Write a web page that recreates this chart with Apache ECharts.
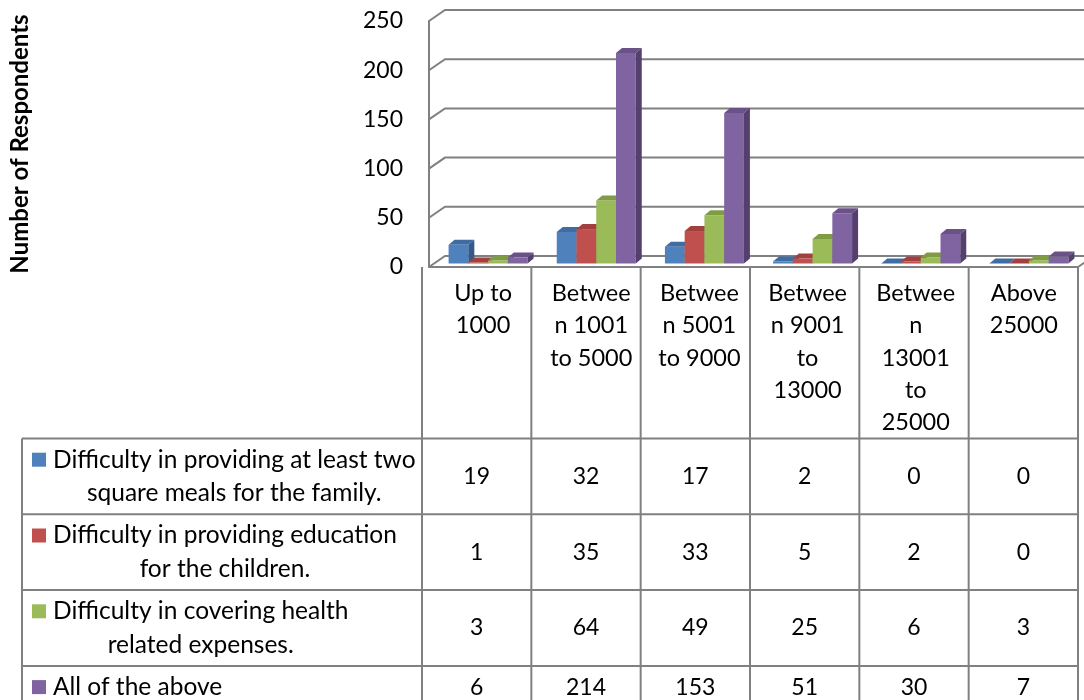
<!DOCTYPE html>
<html>
<head>
<meta charset="utf-8">
<script src="https://cdn.jsdelivr.net/npm/echarts@6/dist/echarts.min.js"></script>
<style>
  html, body { margin: 0; padding: 0; background: #fff; }
  #main { width: 1084px; height: 700px; }
</style>
</head>
<body>
<div id="main"></div>
<script>
// categories as they wrap in the header cells
var categories = ['Up to\n1000', 'Betwee\nn 1001\nto 5000', 'Betwee\nn 5001\nto 9000',
    'Betwee\nn 9001\nto\n13000', 'Betwee\nn\n13001\nto\n25000', 'Above\n25000'];
var seriesLabels = [
    ['Difficulty in providing at least two', 'square meals for the family.'],
    ['Difficulty in providing education', 'for the children.'],
    ['Difficulty in covering health', 'related expenses.'],
    ['All of the above']
];
var meals = [19, 32, 17, 2, 0, 0];
var education = [1, 35, 33, 5, 2, 0];
var health = [3, 64, 49, 25, 6, 3];
var allAbove = [6, 214, 153, 51, 30, 7];
var yTicks = [0, 50, 100, 150, 200, 250];

var seriesValues = [meals, education, health, allAbove];
var colors = [
    { front: '#4f81bd', top: '#3f6ca3', side: '#34598a' },
    { front: '#c0504d', top: '#a3403d', side: '#8b3532' },
    { front: '#9bbb59', top: '#7f9c45', side: '#6b853a' },
    { front: '#8064a2', top: '#6a5289', side: '#543f6f' }
];

var FONT = 'Lato';
var TEXT_SIZE = 24.5, NUM_SIZE = 23, HEAD_SIZE = 23.5;
var GRID_LEFT = 422, GRID_TOP = 21, GRID_W = 656, GRID_H = 246;
var COL_W = GRID_W / categories.length;
var TABLE_LEFT = 22, HEADER_BOTTOM = 438.5;
var LINE_H = 33.4, ROW_PAD = 9;
var LINE_COLOR = '#808080';

// 3d look: bars sit a bit behind the front plane, walls further back
var SHIFT_X = 5, SHIFT_Y = -3.5, DEPTH_X = 6, DEPTH_Y = -5;
var WALL_X = 16, WALL_Y = -11;

function bar3d(idx) {
    var c = colors[idx];
    return function (params, api) {
        var cat = api.value(0), v = api.value(1);
        var base = api.coord([cat, 0]);
        var tip = api.coord([cat, v]);
        var w = api.size([1, 0])[0] * 0.1826;
        var x0 = base[0] + SHIFT_X + (idx - 2) * w;
        var yb = base[1] + SHIFT_Y, yt = tip[1] + SHIFT_Y;
        return {
            type: 'group',
            children: [
                { type: 'rect', shape: { x: x0, y: yt, width: w, height: yb - yt }, style: { fill: c.front } },
                { type: 'polygon', shape: { points: [[x0, yt], [x0 + w, yt], [x0 + w + DEPTH_X, yt + DEPTH_Y], [x0 + DEPTH_X, yt + DEPTH_Y]] }, style: { fill: c.top } },
                { type: 'polygon', shape: { points: [[x0 + w, yt], [x0 + w + DEPTH_X, yt + DEPTH_Y], [x0 + w + DEPTH_X, yb + DEPTH_Y], [x0 + w, yb]] }, style: { fill: c.side } }
            ]
        };
    };
}

function gridLines(params, api) {
    var cs = params.coordSys;
    var y = api.coord([0, api.value(1)])[1];
    var children = [{
        type: 'polyline',
        shape: { points: [[cs.x, y], [cs.x + WALL_X, y + WALL_Y], [cs.x + cs.width + WALL_X, y + WALL_Y]] },
        style: { stroke: LINE_COLOR, lineWidth: 2, fill: null }
    }];
    if (api.value(1) === 0) {
        children.push({
            type: 'line',
            shape: { x1: cs.x + cs.width, y1: y, x2: cs.x + cs.width + WALL_X, y2: y + WALL_Y },
            style: { stroke: LINE_COLOR, lineWidth: 2 }
        });
    }
    return { type: 'group', children: children };
}

var ctx = document.createElement('canvas').getContext('2d');
ctx.font = TEXT_SIZE + 'px ' + FONT;

function buildTable() {
    var g = [];
    var tops = [], y = HEADER_BOTTOM;
    seriesLabels.forEach(function (lines) {
        tops.push(y);
        y += lines.length * LINE_H + ROW_PAD;
    });
    var bottom = y;
    var right = GRID_LEFT + GRID_W;
    tops.concat([bottom]).forEach(function (ty) {
        g.push({ type: 'line', shape: { x1: TABLE_LEFT, y1: ty, x2: right, y2: ty }, style: { stroke: LINE_COLOR, lineWidth: 2 } });
    });
    g.push({ type: 'line', shape: { x1: TABLE_LEFT, y1: HEADER_BOTTOM, x2: TABLE_LEFT, y2: bottom }, style: { stroke: LINE_COLOR, lineWidth: 2 } });
    for (var j = 0; j <= categories.length; j++) {
        var vx = GRID_LEFT + j * COL_W;
        g.push({ type: 'line', shape: { x1: vx, y1: GRID_TOP + GRID_H, x2: vx, y2: bottom }, style: { stroke: LINE_COLOR, lineWidth: 2 } });
    }
    seriesLabels.forEach(function (lines, i) {
        var rowH = lines.length * LINE_H + ROW_PAD;
        var blockTop = tops[i] + (rowH - lines.length * LINE_H) / 2;
        var wMax = 0;
        lines.forEach(function (l) { wMax = Math.max(wMax, ctx.measureText(l).width); });
        g.push({ type: 'rect', shape: { x: 32, y: blockTop + LINE_H / 2 - 7, width: 14, height: 14 }, style: { fill: colors[i].front } });
        g.push({
            type: 'text', x: 53 + wMax / 2, y: blockTop,
            style: { text: lines.join('\n'), font: TEXT_SIZE + 'px ' + FONT, fill: '#000', align: 'center', verticalAlign: 'top', lineHeight: LINE_H }
        });
        seriesValues[i].forEach(function (v, j) {
            g.push({
                type: 'text', x: GRID_LEFT + (j + 0.5) * COL_W, y: tops[i] + rowH / 2,
                style: { text: String(v), font: NUM_SIZE + 'px ' + FONT, fill: '#000', align: 'center', verticalAlign: 'middle' }
            });
        });
    });
    return g;
}

var chart = echarts.init(document.getElementById('main'));
var series = [{
    type: 'custom',
    z: 1,
    silent: true,
    renderItem: gridLines,
    data: yTicks.map(function (v) { return [0, v]; })
}];
seriesValues.forEach(function (vals, i) {
    series.push({
        type: 'custom',
        z: 2,
        name: seriesLabels[i].join(' '),
        renderItem: bar3d(i),
        data: vals.map(function (v, j) { return [j, v]; })
    });
});

chart.setOption({
    animation: false,
    grid: { left: GRID_LEFT, top: GRID_TOP, width: GRID_W, height: GRID_H },
    xAxis: {
        type: 'category',
        data: categories,
        axisLine: { lineStyle: { color: LINE_COLOR, width: 2 } },
        axisTick: { show: false },
        axisLabel: {
            interval: 0, color: '#000', fontSize: HEAD_SIZE, fontFamily: FONT,
            lineHeight: LINE_H - 1, verticalAlign: 'top', margin: 10
        }
    },
    yAxis: {
        type: 'value',
        min: 0, max: 250, interval: 50,
        axisLine: { show: true, lineStyle: { color: LINE_COLOR, width: 2 } },
        axisTick: { show: false },
        splitLine: { show: false },
        axisLabel: { color: '#000', fontSize: NUM_SIZE, fontFamily: FONT, margin: 26 },
        name: 'Number of Respondents',
        nameLocation: 'middle',
        nameGap: 397,
        nameRotate: 90,
        nameTextStyle: { color: '#000', fontSize: 24, fontWeight: 'bold', fontFamily: FONT }
    },
    graphic: buildTable(),
    series: series
});
</script>
</body>
</html>
